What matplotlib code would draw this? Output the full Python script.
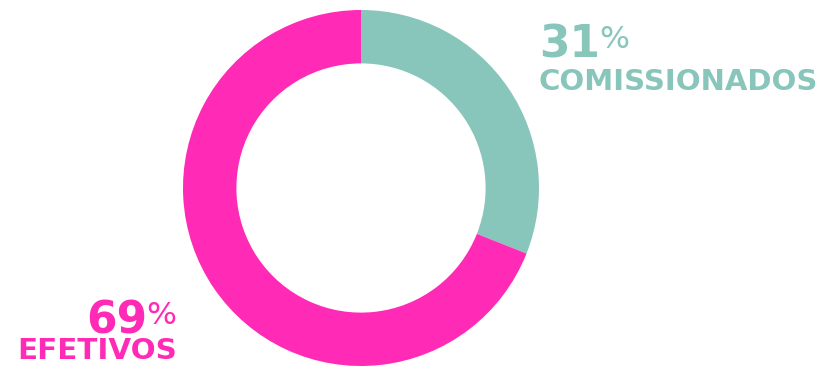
import matplotlib
matplotlib.use('Agg')
import matplotlib.pyplot as plt

labels = ['COMISSIONADOS', 'EFETIVOS']
values = [31, 69]
colors = ['#88C5BB', '#FF2AB6']

W, H = 826, 366
fig = plt.figure(figsize=(W / 100, H / 100), dpi=100)

# donut: center (361, 188) px from top-left, radius 178
cx, cy, r = 361, 188, 178
ax = fig.add_axes([(cx - r) / W, (H - cy - r) / H, 2 * r / W, 2 * r / H])
ax.pie(values, colors=colors, startangle=90, counterclock=False,
       wedgeprops=dict(width=0.30, edgecolor='none'))
ax.set_aspect('equal')
ax.set_xlim(-1, 1)
ax.set_ylim(-1, 1)

renderer = fig.canvas.get_renderer()
CAP = 0.73  # cap height of DejaVu Sans, in em


def put(s, x, y, color, ha='left', va='baseline', weight='bold', width=None, cap=None):
    # x, y in pixels from top-left; size from a target width or cap height
    t = fig.text(x / W, (H - y) / H, s, color=color, ha=ha, va=va,
                 fontsize=30, fontweight=weight, family='DejaVu Sans')
    if width is not None:
        w = t.get_window_extent(renderer).width
        t.set_fontsize(30 * width / w)
    else:
        t.set_fontsize(cap / CAP * 0.72)
    return t


def extent(t):
    return t.get_window_extent(renderer)


pct = ['%d' % v for v in values]

# right label (first slice)
n = put(pct[0], 539, 57, colors[0], cap=32)
put('%', extent(n).x1 - 1, 57 - 32, colors[0], va='top', weight='normal', cap=23)
put(labels[0], 539, 90, colors[0], width=280)

# left label (second slice)
p = put('%', 176, 333 - 32, colors[1], ha='right', va='top', weight='normal', cap=23)
put(pct[1], extent(p).x0 + 1, 333, colors[1], ha='right', cap=32)
put(labels[1], 177, 359, colors[1], ha='right', width=160)

fig.savefig('out.png', dpi=100)
